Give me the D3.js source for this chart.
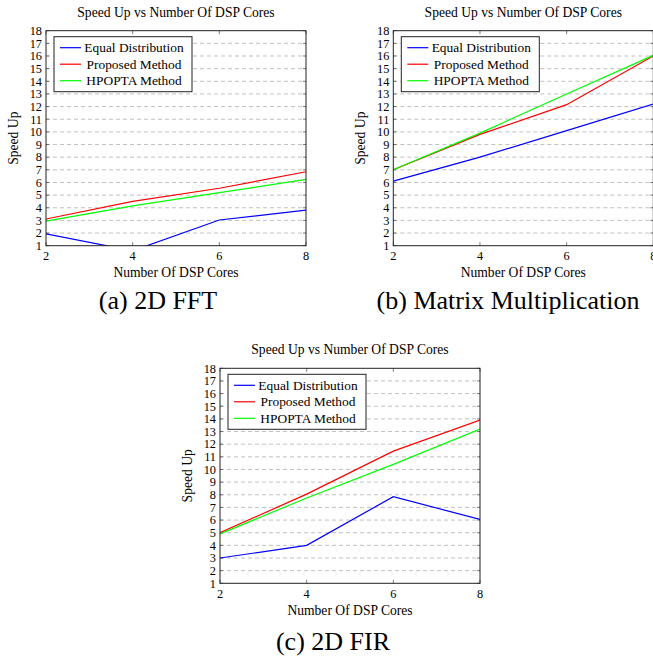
<!DOCTYPE html>
<html>
<head>
<meta charset="utf-8">
<script src="https://cdn.jsdelivr.net/npm/d3@7"></script>
<style>
  body { margin: 0; background: #fff; }
  #chart text { font-family: "Liberation Serif", Tinos, "Times New Roman", Times, "DejaVu Serif", serif; fill: #000; }
</style>
</head>
<body>
<svg id="chart" width="653" height="659" font-family="Liberation Serif, DejaVu Serif, serif"></svg>
<script>
// Data vars
const cores = [2, 4, 6, 8];
const yTicks = d3.range(1, 19);
const seriesNames = ["Equal Distribution", "Proposed Method", "HPOPTA Method"];
const seriesColors = ["#0000ff", "#ff0000", "#00ff00"];

// (a) 2D FFT
const fftEqual = [1.93, 0.6, 3.03, 3.82];
const fftProposed = [3.11, 4.5, 5.54, 6.85];
const fftHpopta = [2.95, 4.15, 5.19, 6.25];

// (b) Matrix Multiplication
const matEqual = [6.1, 8.0, 10.1, 12.2];
const matProposed = [7.0, 9.8, 12.15, 16.0];
const matHpopta = [7.0, 9.9, 13.0, 16.05];

// (c) 2D FIR
const firEqual = [3.0, 4.0, 7.85, 6.05];
const firProposed = [5.0, 8.05, 11.45, 13.9];
const firHpopta = [4.9, 7.75, 10.4, 13.2];

const chartTitle = "Speed Up vs Number Of DSP Cores";
const xLabel = "Number Of DSP Cores";
const yLabel = "Speed Up";

// Plot size (same for every panel)
const plotW = 260;
const plotH = 215;

const svg = d3.select("#chart");

drawPanel("a", 46, 30.7, [fftEqual, fftProposed, fftHpopta], "(a) 2D FFT", 158, 309);
drawPanel("b", 393.3, 30.7, [matEqual, matProposed, matHpopta], "(b) Matrix Multiplication", 508, 309);
drawPanel("c", 220, 368.3, [firEqual, firProposed, firHpopta], "(c) 2D FIR", 333, 650);

function drawPanel(id, left, top, series, caption, capX, capY) {
    const g = svg.append("g").attr("transform", `translate(${left},${top})`);

    const xScale = d3.scaleLinear().domain([2, 8]).range([0, plotW]);
    const yScale = d3.scaleLinear().domain([1, 18]).range([plotH, 0]);

    g.append("defs").append("clipPath")
        .attr("id", `clip-${id}`)
        .append("rect")
        .attr("width", plotW)
        .attr("height", plotH);

    // dashed grid
    g.selectAll(".grid")
        .data(yTicks.filter(d => d > 1 && d < 18))
        .enter()
        .append("line")
            .attr("x1", 0)
            .attr("x2", plotW)
            .attr("y1", d => yScale(d))
            .attr("y2", d => yScale(d))
            .attr("stroke", "#b0b0b0")
            .attr("stroke-width", 0.8)
            .attr("stroke-dasharray", "4,3");

    // inner tick marks
    g.selectAll(".ytick")
        .data(yTicks)
        .enter()
        .append("path")
            .attr("d", d => `M0,${yScale(d)}h3M${plotW},${yScale(d)}h-3`)
            .attr("stroke", "#444")
            .attr("stroke-width", 0.7);
    g.selectAll(".xtick")
        .data(cores)
        .enter()
        .append("path")
            .attr("d", d => `M${xScale(d)},${plotH}v-3.5M${xScale(d)},0v3.5`)
            .attr("stroke", "#444")
            .attr("stroke-width", 0.7);

    // lines
    const line = d3.line()
        .x((d, i) => xScale(cores[i]))
        .y(d => yScale(d));

    g.selectAll(".series")
        .data(series)
        .enter()
        .append("path")
            .attr("clip-path", `url(#clip-${id})`)
            .attr("fill", "none")
            .attr("stroke", (d, i) => seriesColors[i])
            .attr("stroke-width", 1.2)
            .attr("d", d => line(d));

    // frame
    g.append("rect")
        .attr("width", plotW)
        .attr("height", plotH)
        .attr("fill", "none")
        .attr("stroke", "#222")
        .attr("stroke-width", 1);

    // tick labels
    g.selectAll(".ylab")
        .data(yTicks)
        .enter()
        .append("text")
            .attr("x", -4)
            .attr("y", d => yScale(d))
            .attr("dy", "0.35em")
            .attr("text-anchor", "end")
            .style("font-size", "12.3px")
            .text(d => d);
    g.selectAll(".xlab")
        .data(cores)
        .enter()
        .append("text")
            .attr("x", d => xScale(d))
            .attr("y", plotH + 10.5)
            .attr("dy", "0.35em")
            .attr("text-anchor", "middle")
            .style("font-size", "12.3px")
            .text(d => d);

    // titles
    g.append("text")
        .attr("x", plotW / 2)
        .attr("y", -18.7)
        .attr("dy", "0.35em")
        .attr("text-anchor", "middle")
        .style("font-size", "13.6px")
        .text(chartTitle);
    g.append("text")
        .attr("x", plotW / 2)
        .attr("y", plotH + 27)
        .attr("dy", "0.35em")
        .attr("text-anchor", "middle")
        .style("font-size", "13.6px")
        .text(xLabel);
    g.append("text")
        .attr("transform", `translate(-33,${plotH / 2}) rotate(-90)`)
        .attr("dy", "0.35em")
        .attr("text-anchor", "middle")
        .style("font-size", "13.6px")
        .text(yLabel);

    // legend
    const legend = g.append("g").attr("transform", "translate(8,6)");
    legend.append("rect")
        .attr("width", 138)
        .attr("height", 55)
        .attr("fill", "#fff")
        .attr("stroke", "#222")
        .attr("stroke-width", 1);
    seriesNames.forEach((name, i) => {
        const y = 11 + i * 16.5;
        legend.append("line")
            .attr("x1", 6).attr("x2", 27)
            .attr("y1", y).attr("y2", y)
            .attr("stroke", seriesColors[i])
            .attr("stroke-width", 1.2);
        legend.append("text")
            .attr("x", 80)
            .attr("y", y)
            .attr("dy", "0.35em")
            .attr("text-anchor", "middle")
            .style("font-size", "13.4px")
            .text(name);
    });

    // caption under the panel
    svg.append("text")
        .attr("x", capX)
        .attr("y", capY)
        .attr("text-anchor", "middle")
        .style("font-size", "26px")
        .text(caption);
}
</script>
</body>
</html>
